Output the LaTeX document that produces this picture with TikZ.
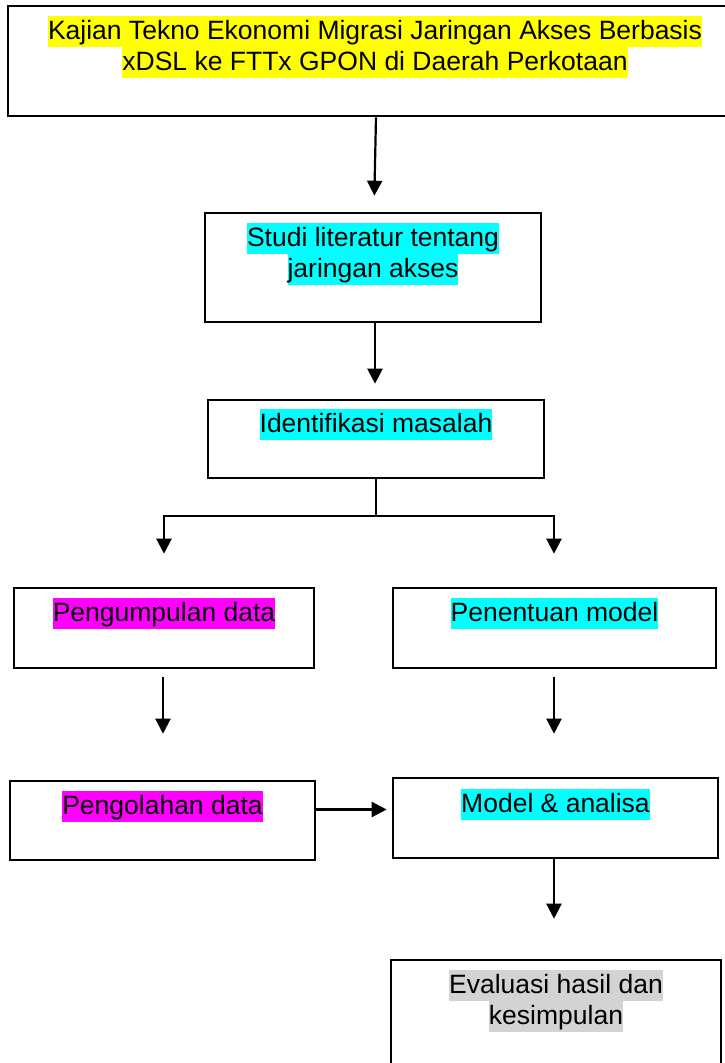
\documentclass[tikz,border=0pt]{standalone}
\usepackage{fontspec}
\setmainfont{Liberation Sans}
\usepackage{tikz}
\usetikzlibrary{arrows.meta,positioning}

\definecolor{hlyellow}{HTML}{FFFF00}
\definecolor{hlcyan}{HTML}{00FFFF}
\definecolor{hlmagenta}{HTML}{FF00FF}
\definecolor{hlgray}{HTML}{D3D3D3}
\newcommand{\marktext}[2]{{\setlength{\fboxsep}{0pt}\colorbox{#1}{\rule[-7pt]{0pt}{31pt}#2}}}

\begin{document}
\begin{tikzpicture}[
        x=1pt, y=-1pt,
        box/.style={draw, line width=2.6pt, inner sep=0pt},
        txt/.style={inner sep=0pt, align=center, font=\fontsize{26.5}{31}\selectfont},
        arrow/.style={-{Triangle[length=15pt,width=15pt]}, line width=2.2pt}
    ]
        \useasboundingbox (0,0) rectangle (724,1063);

        % boxes
        \node[box, minimum width=732pt, minimum height=110pt] (kajian) at (374,61) {};
        \node[box, minimum width=336pt, minimum height=109pt] (studi) at (373,267.5) {};
        \node[box, minimum width=336pt, minimum height=78pt] (ident) at (376,439) {};
        \node[box, minimum width=300pt, minimum height=80pt] (kumpul) at (164,628) {};
        \node[box, minimum width=323pt, minimum height=80pt] (tentu) at (554.5,628) {};
        \node[box, minimum width=305pt, minimum height=79pt] (olah) at (162.5,820.5) {};
        \node[box, minimum width=325pt, minimum height=80pt] (model) at (555.5,818) {};
        \node[box, minimum width=330pt, minimum height=125pt] (eval) at (556,1022.5) {};

        % texts
        \node[txt, below=11pt of kajian.north, xshift=1pt] (kajianT) {\marktext{hlyellow}{Kajian Tekno Ekonomi Migrasi Jaringan Akses Berbasis}\\\marktext{hlyellow}{xDSL ke FTTx GPON di Daerah Perkotaan}};
        \node[txt, below=11pt of studi.north] (studiT) {\marktext{hlcyan}{Studi literatur tentang}\\\marktext{hlcyan}{jaringan akses}};
        \node[txt, below=10pt of ident.north] (identT) {\marktext{hlcyan}{Identifikasi masalah}};
        \node[txt, below=11pt of kumpul.north] (kumpulT) {\marktext{hlmagenta}{Pengumpulan data}};
        \node[txt, below=11pt of tentu.north] (tentuT) {\marktext{hlcyan}{Penentuan model}};
        \node[txt, below=11pt of olah.north] (olahT) {\marktext{hlmagenta}{Pengolahan data}};
        \node[txt, below=12pt of model.north] (modelT) {\marktext{hlcyan}{Model \& analisa}};
        \node[txt, below=11pt of eval.north] (evalT) {\marktext{hlgray}{Evaluasi hasil dan}\\\marktext{hlgray}{kesimpulan}};

        % connectors
        \coordinate (split) at ([yshift=-37pt]ident.south);
        \draw[arrow, shorten >=16pt] ([xshift=2pt]kajian.south) -- ([xshift=1pt]studi.north);
        \draw[arrow, shorten >=15pt] ([xshift=2pt]studi.south) -- ([xshift=-1pt]ident.north);
        \draw[line width=2.2pt] (ident.south) -- (split);
        \draw[arrow, shorten >=33pt] (split) -| (kumpul.north);
        \draw[arrow, shorten >=33pt] (split) -| ([xshift=-0.5pt]tentu.north);
        \draw[arrow, shorten <=8pt, shorten >=46pt] ([xshift=-1pt]kumpul.south) -- ([xshift=-1pt]kumpul.south |- olah.north);
        \draw[arrow, shorten <=8pt, shorten >=43pt] ([xshift=-0.5pt]tentu.south) -- ([xshift=-0.5pt]tentu.south |- model.north);
        \draw[arrow, shorten >=5pt] ([yshift=11pt]olah.east) -- ([yshift=11pt]olah.east -| model.west);
        \draw[arrow, shorten >=40pt] ([xshift=-1.5pt]model.south) -- ([xshift=-1.5pt]model.south |- eval.north);
    \end{tikzpicture}
\end{document}
